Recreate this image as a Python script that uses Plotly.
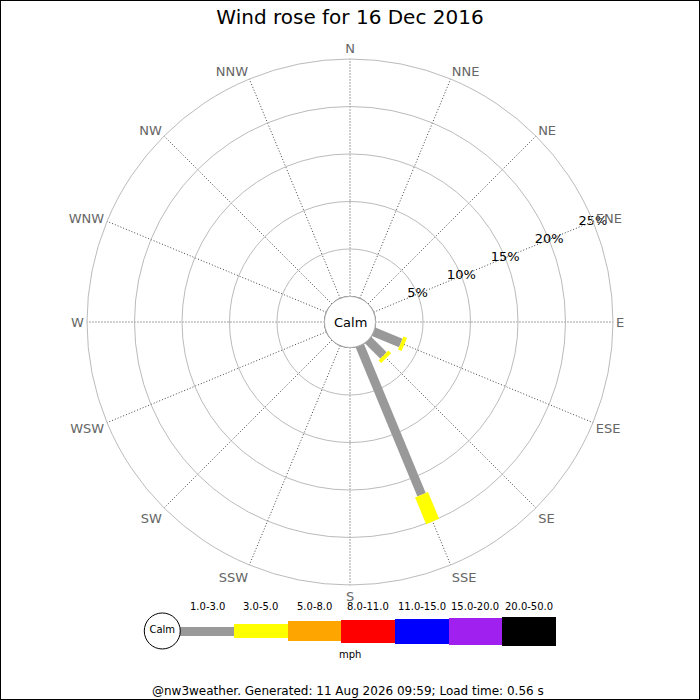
import numpy as np
import plotly.graph_objects as go

# compass points, clockwise from north
directions = ["N", "NNE", "NE", "ENE", "E", "ESE", "SE", "SSE",
              "S", "SSW", "SW", "WSW", "W", "WNW", "NW", "NNW"]
dir_angles = [i * 22.5 for i in range(16)]

speed_bins = ["1.0-3.0", "3.0-5.0", "5.0-8.0", "8.0-11.0",
              "11.0-15.0", "15.0-20.0", "20.0-50.0"]
bin_colors = ["#999999", "#ffff00", "#ffa500", "#ff0000",
              "#0000ff", "#a020f0", "#000000"]
bin_widths = [9, 14, 20, 23, 25, 27, 29]  # px, style only

# percentage of time per direction, one list per speed bin
pct_1_3 = [0, 0, 0, 0, 0, 3.1, 2.3, 17.0, 0, 0, 0, 0, 0, 0, 0, 0]
pct_3_5 = [0, 0, 0, 0, 0, 0.4, 0.4, 3.05, 0, 0, 0, 0, 0, 0, 0, 0]
pct_5_8 = [0] * 16
pct_8_11 = [0] * 16
pct_11_15 = [0] * 16
pct_15_20 = [0] * 16
pct_20_50 = [0] * 16
bin_pcts = [pct_1_3, pct_3_5, pct_5_8, pct_8_11, pct_11_15, pct_15_20, pct_20_50]

ring_ticks = [5, 10, 15, 20, 25]
ring_labels = ["5%", "10%", "15%", "20%", "25%"]

fig = go.Figure()

# calm circle = inner edge of the radial axis
circ_theta = np.linspace(0, 360, 181)
fig.add_trace(go.Scatterpolar(r=[0] * len(circ_theta), theta=circ_theta, mode="lines",
                              line=dict(color="black", width=1), cliponaxis=False,
                              hoverinfo="skip"))

# stacked spokes
for i, ang in enumerate(dir_angles):
    start = 0
    for b in range(len(speed_bins)):
        v = bin_pcts[b][i]
        if v <= 0:
            continue
        fig.add_trace(go.Scatterpolar(r=[start, start + v], theta=[ang, ang], mode="lines",
                                      line=dict(color=bin_colors[b], width=bin_widths[b]),
                                      cliponaxis=False, name=speed_bins[b]))
        start += v

# ring labels along ENE
fig.add_trace(go.Scatterpolar(r=ring_ticks, theta=[67.5] * len(ring_ticks), mode="text",
                              text=ring_labels, textfont=dict(size=13, color="black"),
                              cliponaxis=False, hoverinfo="skip"))

# legend strip
for b in range(len(speed_bins)):
    h = bin_widths[b]
    fig.add_trace(go.Bar(x=[b + 0.5], y=[h], base=[-h / 2], width=1,
                         marker=dict(color=bin_colors[b], line=dict(width=0)),
                         xaxis="x2", yaxis="y2", hoverinfo="skip"))
fig.add_trace(go.Scatter(x=[-0.335], y=[0], mode="markers+text", text=["Calm"],
                         textposition="middle center", textfont=dict(size=10, color="black"),
                         marker=dict(size=36, color="white", line=dict(color="black", width=1)),
                         xaxis="x2", yaxis="y2", cliponaxis=False, hoverinfo="skip"))

annotations = []
for b, lab in enumerate(speed_bins):
    annotations.append(dict(x=b + 0.5, y=24, xref="x2", yref="y2", text=lab, showarrow=False,
                            font=dict(size=10, color="black"), yanchor="middle"))
annotations.append(dict(x=0.5, y=0.0657, xref="paper", yref="paper", text="mph",
                        showarrow=False, yanchor="middle", font=dict(size=10, color="black")))
annotations.append(dict(x=0.5, y=0.54, xref="paper", yref="paper", text="Calm",
                        showarrow=False, yanchor="middle", font=dict(size=13, color="black")))
annotations.append(dict(x=0.497, y=0.0129, xref="paper", yref="paper",
                        text="@nw3weather. Generated: 11 Aug 2026 09:59; Load time: 0.56 s",
                        showarrow=False, yanchor="middle", font=dict(size=12, color="black")))

fig.update_layout(
    width=700, height=700,
    margin=dict(l=0, r=0, t=0, b=0),
    paper_bgcolor="white",
    plot_bgcolor="white",
    font=dict(family="DejaVu Sans"),
    showlegend=False,
    title=dict(text="Wind rose for 16 Dec 2016", x=0.5, xanchor="center",
               y=0.9757, yanchor="middle", font=dict(size=20, color="black")),
    polar=dict(
        domain=dict(x=[0.1243, 0.8757], y=[0.1643, 0.9157]),
        bgcolor="white",
        hole=0.097,
        radialaxis=dict(range=[0, 25], tickvals=ring_ticks, showticklabels=False,
                        ticks="", showline=False, gridcolor="#bbbbbb", gridwidth=1,
                        angle=22.5),
        angularaxis=dict(rotation=90, direction="clockwise", tickvals=dir_angles,
                         ticktext=directions, ticks="", showline=True,
                         linecolor="#bbbbbb", linewidth=1,
                         gridcolor="#444444", griddash="1px,2px", gridwidth=1,
                         tickfont=dict(size=13, color="#666666")),
    ),
    xaxis2=dict(domain=[0.2, 0.7943], range=[-0.75, 7], visible=False, anchor="y2"),
    yaxis2=dict(domain=[0.0643, 0.1329], range=[-24, 24], visible=False, anchor="x2"),
    bargap=0,
    annotations=annotations,
    shapes=[dict(type="rect", xref="paper", yref="paper", x0=0, y0=0, x1=1, y1=1,
                 line=dict(color="black", width=2))],
)

fig.write_html("out.html", config={"displayModeBar": False},
               post_script="document.body.style.margin='0';")
